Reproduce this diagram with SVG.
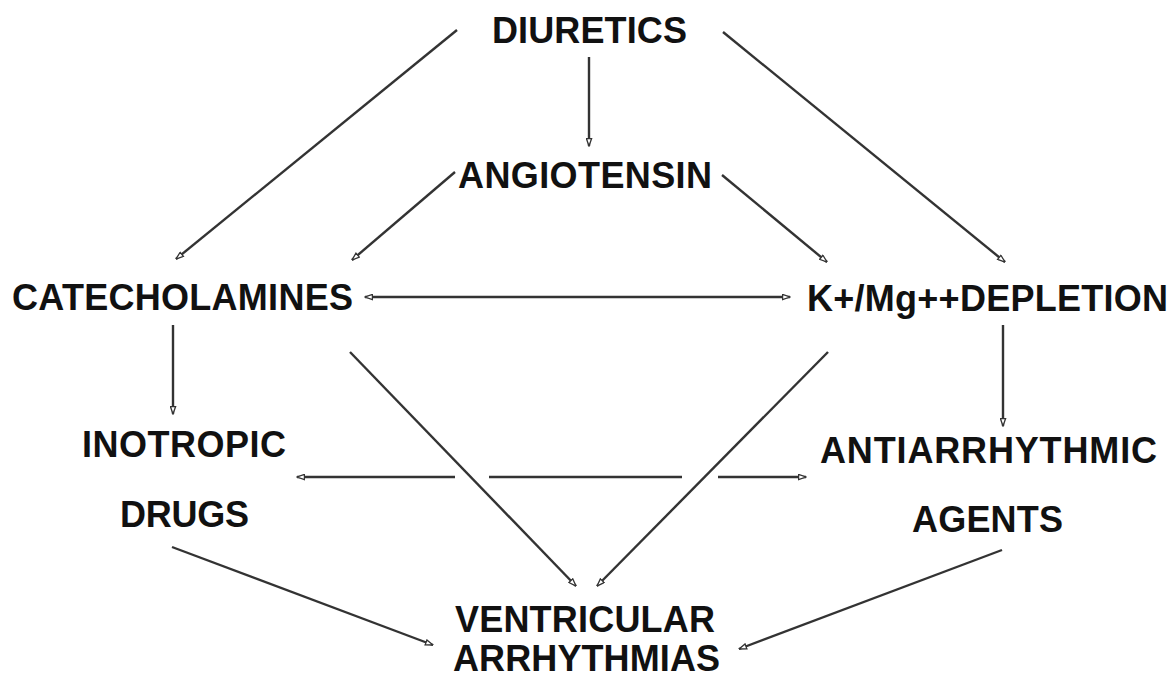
<svg xmlns="http://www.w3.org/2000/svg" width="1175" height="679" viewBox="0 0 1175 679">
<style>
  .lbl { font-family: "Liberation Sans", Arial, Helvetica, sans-serif; font-weight: bold; font-size: 36px; fill: #111; }
  .c { stroke: #333; stroke-width: 2.4; fill: none; }
</style>
<defs>
  <marker id="ah" viewBox="0 0 10 8" refX="9.5" refY="4" markerWidth="9" markerHeight="7" markerUnits="userSpaceOnUse" orient="auto-start-reverse">
    <path d="M1,1 L9.5,4 L1,7 Z" fill="#fff" stroke="#333" stroke-width="1.5"/>
  </marker>
</defs>
<rect width="1175" height="679" fill="#fff"/>
<g id="connectors">
  <line class="c" x1="457" y1="30" x2="176" y2="259" marker-end="url(#ah)"/>
  <line class="c" x1="589" y1="57" x2="589" y2="146" marker-end="url(#ah)"/>
  <line class="c" x1="723" y1="32" x2="1005" y2="262" marker-end="url(#ah)"/>
  <line class="c" x1="455" y1="172" x2="352" y2="260" marker-end="url(#ah)"/>
  <line class="c" x1="722" y1="175" x2="827" y2="262" marker-end="url(#ah)"/>
  <line class="c" x1="365" y1="297" x2="790" y2="297" marker-start="url(#ah)" marker-end="url(#ah)"/>
  <line class="c" x1="173" y1="325" x2="173" y2="414" marker-end="url(#ah)"/>
  <line class="c" x1="1003" y1="325" x2="1003" y2="426" marker-end="url(#ah)"/>
  <line class="c" x1="350" y1="352" x2="576" y2="586" marker-end="url(#ah)"/>
  <line class="c" x1="828" y1="352" x2="597" y2="586" marker-end="url(#ah)"/>
  <line class="c" x1="455" y1="477" x2="297" y2="477" marker-end="url(#ah)"/>
  <line class="c" x1="489" y1="477" x2="682" y2="477"/>
  <line class="c" x1="718" y1="477" x2="806" y2="477" marker-end="url(#ah)"/>
  <line class="c" x1="172" y1="547" x2="433" y2="645" marker-end="url(#ah)"/>
  <line class="c" x1="1002" y1="550" x2="739" y2="649" marker-end="url(#ah)"/>
</g>
<g id="n-diuretics"><text class="lbl" x="492" y="43" textLength="195" lengthAdjust="spacing">DIURETICS</text></g>
<g id="n-angiotensin"><text class="lbl" x="458" y="188" textLength="254" lengthAdjust="spacing">ANGIOTENSIN</text></g>
<g id="n-catecholamines"><text class="lbl" x="12" y="310" textLength="341" lengthAdjust="spacing">CATECHOLAMINES</text></g>
<g id="n-depletion"><text class="lbl" x="807" y="311" textLength="361" lengthAdjust="spacing">K+/Mg++DEPLETION</text></g>
<g id="n-inotropic"><text class="lbl" x="82" y="457" textLength="204" lengthAdjust="spacing">INOTROPIC</text><text class="lbl" x="120" y="527" textLength="129" lengthAdjust="spacing">DRUGS</text></g>
<g id="n-antiarrhythmic"><text class="lbl" x="820" y="463" textLength="337" lengthAdjust="spacing">ANTIARRHYTHMIC</text><text class="lbl" x="912" y="532" textLength="151" lengthAdjust="spacing">AGENTS</text></g>
<g id="n-ventricular"><text class="lbl" x="455" y="632" textLength="260" lengthAdjust="spacing">VENTRICULAR</text><text class="lbl" x="453" y="671" textLength="267" lengthAdjust="spacing">ARRHYTHMIAS</text></g>
</svg>
